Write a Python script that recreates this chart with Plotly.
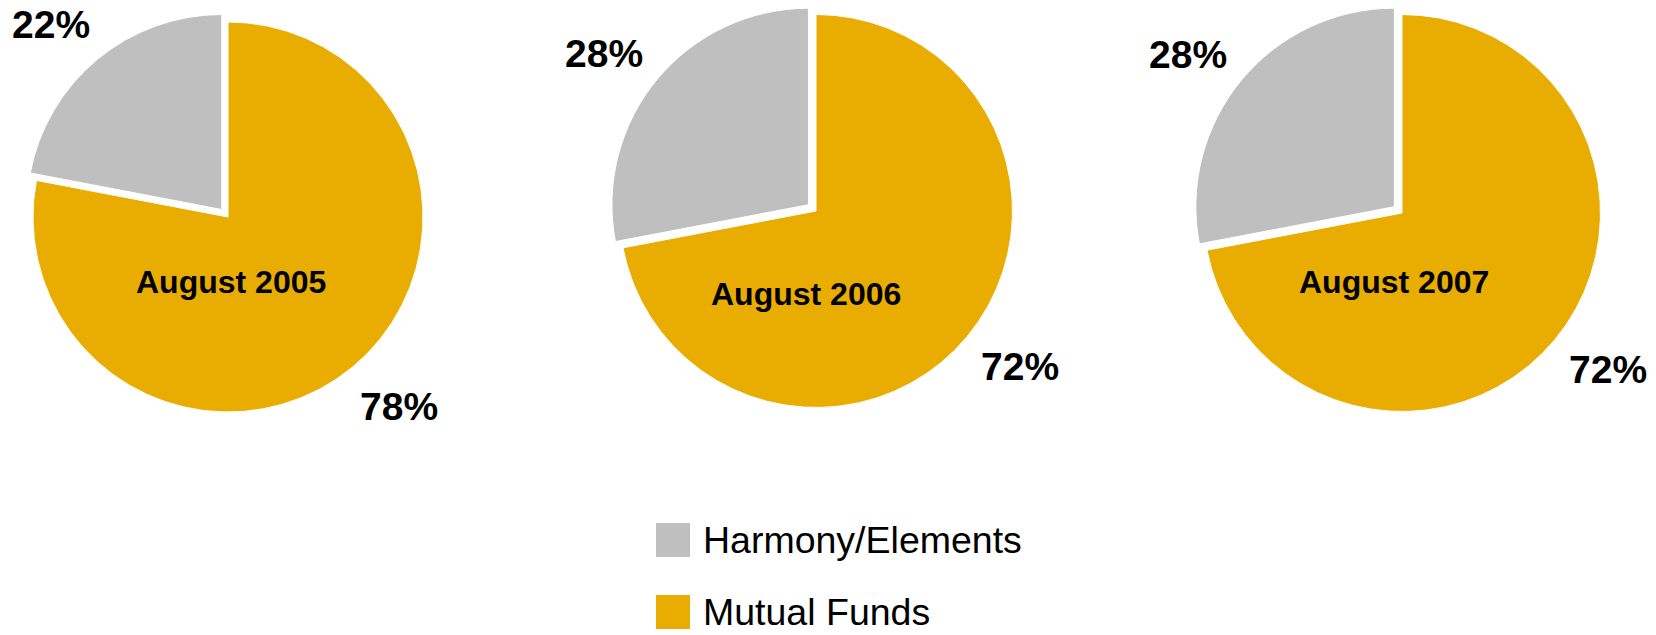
import math
import plotly.graph_objects as go

# ---- data ----
categories = ["Harmony/Elements", "Mutual Funds"]
periods = ["August 2005", "August 2006", "August 2007"]
harmony_share = [22, 28, 28]
mutual_share = [78, 72, 72]
colors = ["#BFBFBF", "#E8AD00"]

# ---- layout constants (pixels) ----
W, H = 1656, 635
PULL = 0.05
pie_centers = [(228, 217), (816, 211), (1402, 213)]
pie_radius = [195, 196.5, 198.5]
period_label_offset = [(3, 65), (-10, 83), (-8, 69)]
pct_label_factor = 1.30
pct_label_turn = math.radians(2.7)   # small counter-clockwise nudge of value labels

FONT = "Liberation Sans, Arial, sans-serif"


def px_to_paper(x, y):
    return x / W, 1 - y / H


fig = go.Figure()
annotations = []

for i, period in enumerate(periods):
    vals = [harmony_share[i], mutual_share[i]]
    total = sum(vals)
    cx, cy = pie_centers[i]
    r = pie_radius[i]
    half = r * (1 + PULL)
    x0, y1 = px_to_paper(cx - half, cy - half)
    x1, y0 = px_to_paper(cx + half, cy + half)
    # first slice runs counter-clockwise away from 12 o'clock
    fig.add_trace(go.Pie(
        labels=categories,
        values=vals,
        sort=False,
        direction="clockwise",
        rotation=-360.0 * vals[0] / total,
        pull=[PULL, 0],
        marker=dict(colors=colors, line=dict(color="white", width=1)),
        textinfo="none",
        hoverinfo="label+percent",
        showlegend=False,
        domain=dict(x=[x0, x1], y=[y0, y1]),
    ))

    # value labels placed along each slice's mid-angle (counter-clockwise from 12 o'clock)
    start = 0.0
    for j, v in enumerate(vals):
        frac = v / total
        theta = 2 * math.pi * (start + frac / 2) + pct_label_turn
        dx, dy = -math.sin(theta), -math.cos(theta)
        pull_px = r * PULL if j == 0 else 0
        lx = cx + dx * (pull_px + r * pct_label_factor)
        ly = cy + dy * (pull_px + r * pct_label_factor) + 2
        ax_, ay_ = px_to_paper(lx, ly)
        annotations.append(dict(
            x=ax_, y=ay_, xref="paper", yref="paper",
            text=f"{v}%", showarrow=False,
            font=dict(family=FONT, size=39, color="black", weight="bold"),
            xanchor="center", yanchor="middle",
        ))
        start += frac

    ox, oy = period_label_offset[i]
    tx, ty = px_to_paper(cx + ox, cy + oy)
    annotations.append(dict(
        x=tx, y=ty, xref="paper", yref="paper",
        text=period, showarrow=False,
        font=dict(family=FONT, size=32, color="black", weight="bold"),
        xanchor="center", yanchor="middle",
    ))

# ---- legend drawn with swatches and labels ----
shapes = []
legend_x, legend_text_x = 656, 701
legend_rows_y = [540, 612]
swatch = 34
for k, name in enumerate(categories):
    yc = legend_rows_y[k]
    sx0, sy1 = px_to_paper(legend_x, yc - swatch / 2)
    sx1, sy0 = px_to_paper(legend_x + swatch, yc + swatch / 2)
    shapes.append(dict(
        type="rect", xref="paper", yref="paper",
        x0=sx0, x1=sx1, y0=sy0, y1=sy1,
        fillcolor=colors[k], line=dict(width=0),
    ))
    lx, ly = px_to_paper(legend_text_x, yc)
    annotations.append(dict(
        x=lx, y=ly, xref="paper", yref="paper",
        text=name, showarrow=False,
        font=dict(family=FONT, size=37.5, color="black"),
        xanchor="left", yanchor="middle",
    ))

fig.update_layout(
    width=W, height=H,
    margin=dict(l=0, r=0, t=0, b=0),
    paper_bgcolor="white",
    plot_bgcolor="white",
    annotations=annotations,
    shapes=shapes,
    showlegend=False,
)

fig.write_html("out.html")
